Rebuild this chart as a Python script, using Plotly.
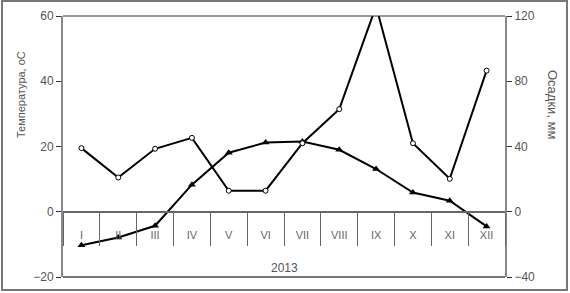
import plotly.graph_objects as go

months = ["I", "II", "III", "IV", "V", "VI", "VII", "VIII", "IX", "X", "XI", "XII"]
temperature = [-10.3, -7.9, -4.3, 8.3, 18.1, 21.2, 21.5, 19.0, 13.1, 5.9, 3.4, -4.5]
precipitation = [39, 21, 38.6, 45.3, 12.9, 12.9, 42, 62.9, 126, 42, 20.2, 86.5]
left_ticks = [-20, 0, 20, 40, 60]
right_ticks = [-40, 0, 40, 80, 120]
year_label = "2013"

W, H = 570, 293
L, R, T, B = 63, 65, 16, 16
pw, ph = W - L - R, H - T - B

def px_x(x):
    return (x - L) / pw

def px_y(y):
    return (H - B - y) / ph

font = "Liberation Sans, Arial, sans-serif"
gray = "#555555"

fig = go.Figure()
fig.add_trace(go.Scatter(
    x=months, y=precipitation, yaxis="y2", mode="lines+markers",
    line=dict(color="black", width=2),
    marker=dict(symbol="circle", size=5, color="white", line=dict(color="black", width=1)),
    cliponaxis=True, showlegend=False))
fig.add_trace(go.Scatter(
    x=months, y=temperature, yaxis="y", mode="lines+markers",
    line=dict(color="black", width=2),
    marker=dict(symbol="triangle-up", size=7, color="black"),
    showlegend=False))

fig.update_layout(
    width=W, height=H,
    margin=dict(l=L, r=R, t=T, b=B, pad=0, autoexpand=False),
    paper_bgcolor="white", plot_bgcolor="white",
    font=dict(family=font, size=11, color=gray),
    xaxis=dict(
        type="category", categoryorder="array", categoryarray=months,
        range=[-0.5, 11.5], anchor="free", position=0.25, automargin=False,
        showline=True, linecolor="#666666", linewidth=2,
        ticks="outside", tickson="boundaries", ticklen=33, tickcolor="#666666", tickwidth=1,
        ticklabelstandoff=13,
        showgrid=False, zeroline=False,
        tickfont=dict(family=font, size=11, color="#666666")),
    yaxis=dict(
        range=[-20, 60], tickvals=left_ticks, automargin=False,
        showline=True, linecolor="#888888", linewidth=2,
        ticks="outside", ticklen=5, tickcolor="#333333",
        showgrid=False, zeroline=False,
        tickfont=dict(family=font, size=12, color=gray)),
    yaxis2=dict(
        range=[-40, 120], tickvals=right_ticks, overlaying="y", side="right", automargin=False,
        showline=True, linecolor="#888888", linewidth=2,
        ticks="outside", ticklen=5, tickcolor="#333333",
        showgrid=False, zeroline=False,
        tickfont=dict(family=font, size=12, color=gray)),
    shapes=[
        dict(type="line", xref="paper", yref="paper", x0=0, x1=1, y0=1, y1=1,
             line=dict(color="#333333", width=1)),
        dict(type="line", xref="paper", yref="paper", x0=0, x1=1, y0=0, y1=0,
             line=dict(color="#777777", width=2)),
        dict(type="rect", xref="paper", yref="paper",
             x0=px_x(2), x1=px_x(567), y0=px_y(290), y1=px_y(1),
             line=dict(color="#777777", width=2), layer="below"),
    ],
    annotations=[
        dict(text="Температура, оС", xref="paper", yref="paper",
             x=px_x(21), y=px_y(95), xanchor="center", yanchor="middle",
             textangle=-90, showarrow=False,
             font=dict(family=font, size=11, color=gray)),
        dict(text="Осадки, мм", xref="paper", yref="paper",
             x=px_x(553), y=px_y(105), xanchor="center", yanchor="middle",
             textangle=90, showarrow=False,
             font=dict(family=font, size=13, color=gray)),
        dict(text=year_label, xref="paper", yref="paper",
             x=0.5, y=px_y(268), xanchor="center", yanchor="middle", showarrow=False,
             font=dict(family=font, size=12, color=gray)),
    ],
)

fig.write_html("out.html", config={"displayModeBar": False},
               post_script="document.body.style.margin='0';document.body.style.overflow='hidden';")
